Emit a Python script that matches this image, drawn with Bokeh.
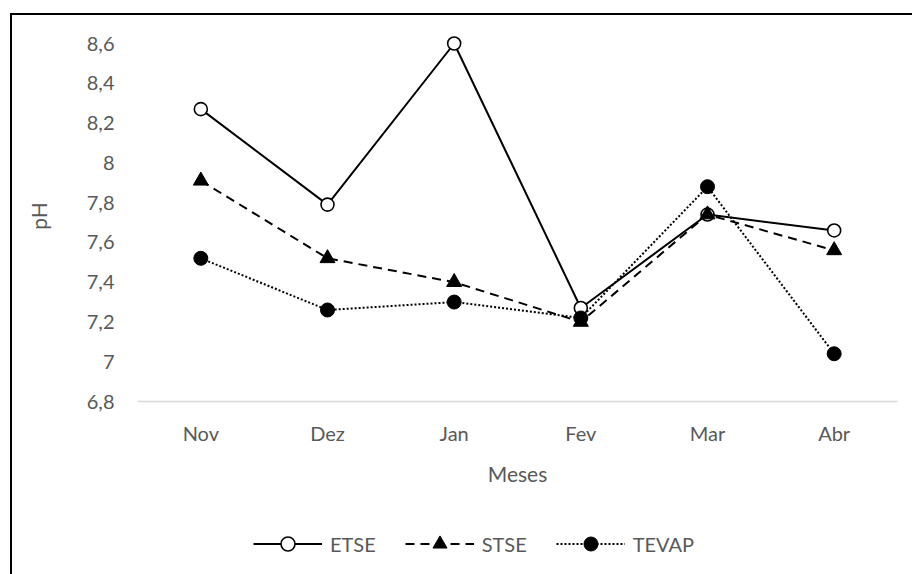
from bokeh.plotting import figure
from bokeh.layouts import column
from bokeh.models import (FactorRange, Range1d, FixedTicker, CustomJSTickFormatter,
                          Legend, LegendItem)
from bokeh.embed import file_html
from bokeh.resources import INLINE

# Monthly pH readings per sampling point
months = ["Nov", "Dez", "Jan", "Fev", "Mar", "Abr"]
etse = [8.27, 7.79, 8.60, 7.27, 7.74, 7.66]
stse = [7.91, 7.52, 7.40, 7.20, 7.74, 7.56]
tevap = [7.52, 7.26, 7.30, 7.22, 7.88, 7.04]
y_ticks = [6.8, 7.0, 7.2, 7.4, 7.6, 7.8, 8.0, 8.2, 8.4, 8.6]

FONT = "Lato"
TEXT = "#595959"

# series styles: (name, values, line dash, marker, marker size, marker fill)
series = [
    ("ETSE", etse, "solid", "circle", 13, "white"),
    ("STSE", stse, "9 6", "triangle", 15, "black"),
    ("TEVAP", tevap, "2 2", "circle", 14, "black"),
]

p = figure(
    x_range=FactorRange(*months, range_padding=0),
    y_range=Range1d(6.8, 8.6 + 13 * 1.8 / 358),
    width=900, height=485,
    min_border_left=125, min_border_right=15,
    min_border_top=15, min_border_bottom=99,
    output_backend="svg", toolbar_location=None,
    background_fill_color="white", border_fill_color="white",
    outline_line_color=None,
)
p.xgrid.grid_line_color = None
p.ygrid.grid_line_color = None

# y axis: labels only, comma decimal separator
p.yaxis.ticker = FixedTicker(ticks=y_ticks)
p.yaxis.formatter = CustomJSTickFormatter(
    code="return tick.toFixed(1).replace('.', ',').replace(/,0$/, '');")
p.yaxis.axis_line_color = None
p.yaxis.major_label_standoff = 23
p.yaxis.axis_label = "pH"
p.yaxis.axis_label_standoff = 33

# x axis: light baseline at the bottom of the plot area
p.xaxis.axis_line_color = "#D9D9D9"
p.xaxis.axis_line_width = 1.5
p.xaxis.major_label_standoff = 19
p.xaxis.axis_label = "Meses"
p.xaxis.axis_label_standoff = 13

for ax in (p.xaxis, p.yaxis):
    ax.major_tick_line_color = None
    ax.minor_tick_line_color = None
    ax.major_tick_out = 0
    ax.major_tick_in = 0
    ax.minor_tick_out = 0
    ax.major_label_text_font = FONT
    ax.major_label_text_font_size = "20px"
    ax.major_label_text_color = TEXT
    ax.axis_label_text_font = FONT
    ax.axis_label_text_font_size = "21px"
    ax.axis_label_text_font_style = "normal"
    ax.axis_label_text_color = TEXT

for name, vals, dash, marker, size, fill in series:
    p.line(months, vals, line_color="black", line_width=2, line_dash=dash)
    p.scatter(months, vals, marker=marker, size=size, fill_color=fill,
              line_color="black", line_width=1.6 if fill == "white" else 1)

# legend strip underneath the chart, with sample glyphs in the same styles
leg = figure(
    x_range=Range1d(0, 1), y_range=Range1d(0, 1),
    width=900, height=74,
    min_border_left=0, min_border_right=0, min_border_top=0, min_border_bottom=0,
    output_backend="svg", toolbar_location=None,
    outline_line_color=None, background_fill_color="white",
    border_fill_color="white",
)
leg.xaxis.visible = False
leg.yaxis.visible = False
leg.xgrid.grid_line_color = None
leg.ygrid.grid_line_color = None

nan = float("nan")
items = []
for name, vals, dash, marker, size, fill in series:
    lr = leg.line(x=[nan], y=[nan], line_color="black", line_width=2, line_dash=dash)
    mr = leg.scatter(x=[nan], y=[nan], marker=marker, size=size, fill_color=fill,
                     line_color="black", line_width=1.6 if fill == "white" else 1)
    items.append(LegendItem(label=name, renderers=[lr, mr]))

legend = Legend(
    items=items,
    orientation="horizontal",
    location=(116, 13),
    glyph_width=69, glyph_height=35, label_height=35,
    label_standoff=8, spacing=29, padding=0, margin=0,
    border_line_color=None, background_fill_alpha=0,
    label_text_font=FONT, label_text_font_size="20px", label_text_color=TEXT,
)
leg.add_layout(legend, "center")

layout = column(p, leg, spacing=0, margin=(15, 0, 0, 12))
layout.styles = {"outline": "2px solid black"}

open("out.html", "w").write(file_html(layout, INLINE))
